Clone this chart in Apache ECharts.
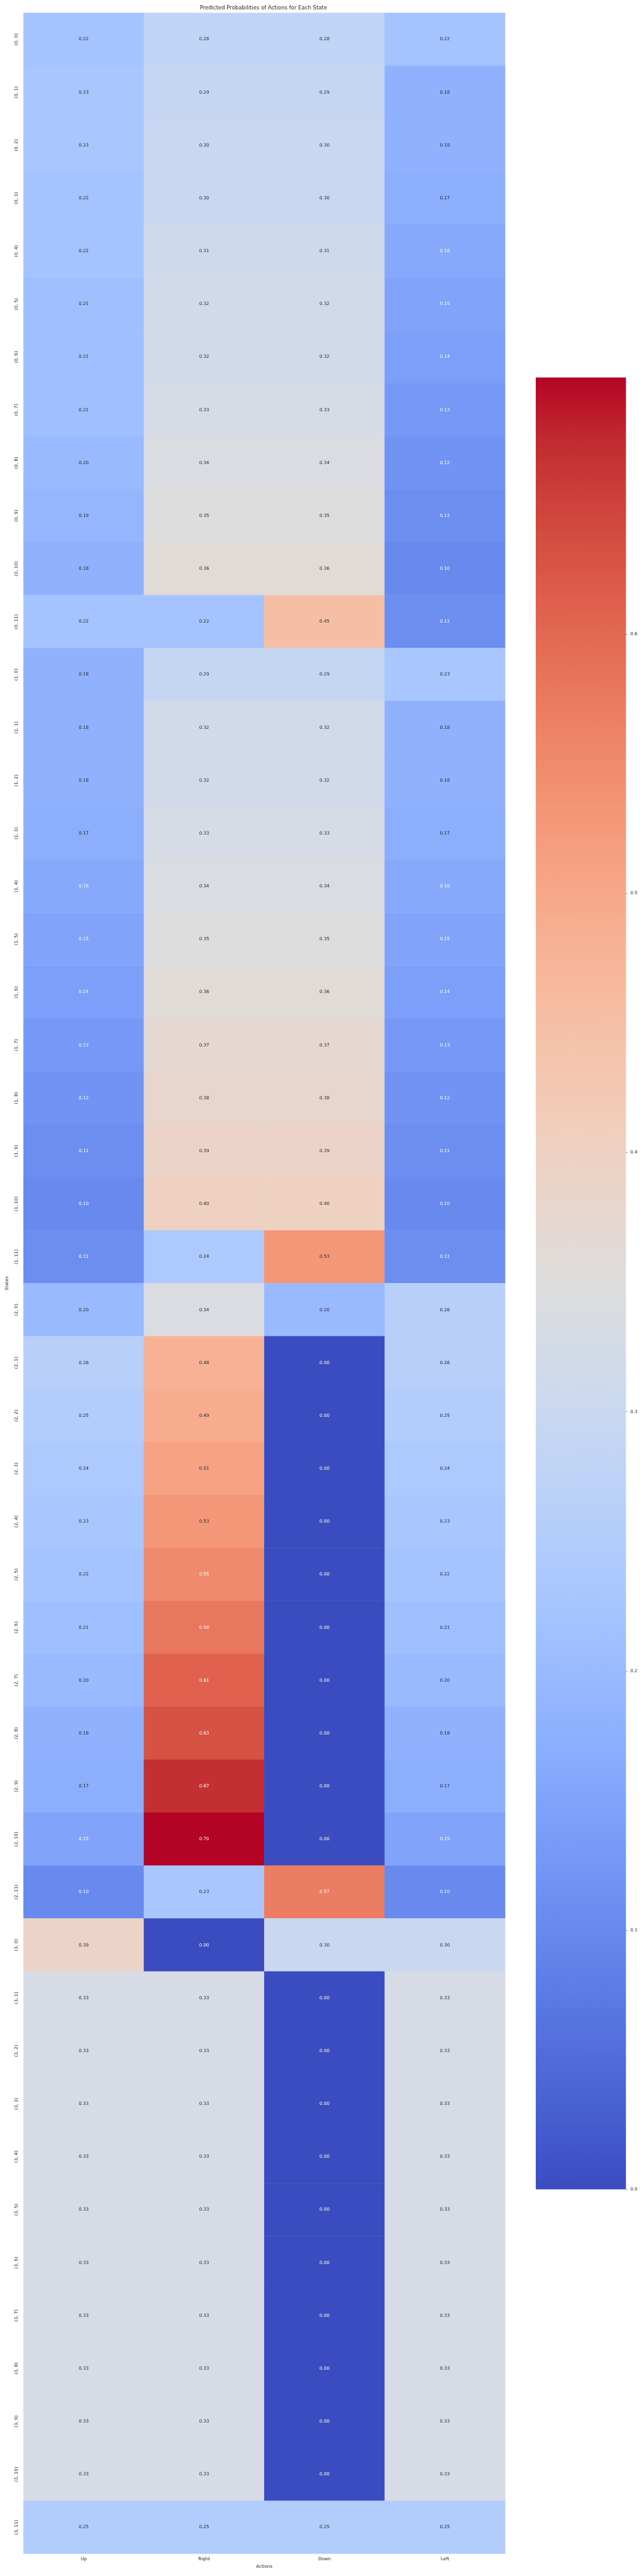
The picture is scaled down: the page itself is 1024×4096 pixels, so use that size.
<!DOCTYPE html>
<html><head><meta charset="utf-8">
<script src="https://cdn.jsdelivr.net/npm/echarts@6/dist/echarts.min.js"></script>
<style>html,body{margin:0;padding:0;background:#fff}#c{width:1024px;height:4096px}</style>
</head><body><div id="c"></div>
<script>
const actions = ['Up', 'Right', 'Down', 'Left'];
const states = [
  '(0, 0)','(0, 1)','(0, 2)','(0, 3)','(0, 4)','(0, 5)','(0, 6)','(0, 7)','(0, 8)','(0, 9)','(0, 10)','(0, 11)',
  '(1, 0)','(1, 1)','(1, 2)','(1, 3)','(1, 4)','(1, 5)','(1, 6)','(1, 7)','(1, 8)','(1, 9)','(1, 10)','(1, 11)',
  '(2, 0)','(2, 1)','(2, 2)','(2, 3)','(2, 4)','(2, 5)','(2, 6)','(2, 7)','(2, 8)','(2, 9)','(2, 10)','(2, 11)',
  '(3, 0)','(3, 1)','(3, 2)','(3, 3)','(3, 4)','(3, 5)','(3, 6)','(3, 7)','(3, 8)','(3, 9)','(3, 10)','(3, 11)'
];
const upVals = [
  0.22,0.23,0.23,0.22,0.22,0.21,0.21,0.21,0.20,0.19,0.18,0.22,
  0.18,0.18,0.18,0.17,0.16,0.15,0.14,0.13,0.12,0.11,0.10,0.11,
  0.20,0.26,0.25,0.24,0.23,0.22,0.21,0.20,0.18,0.17,0.15,0.10,
  0.39,0.33,0.33,0.33,0.33,0.33,0.33,0.33,0.33,0.33,0.33,0.25
];
const rightVals = [
  0.28,0.29,0.30,0.30,0.31,0.32,0.32,0.33,0.34,0.35,0.36,0.22,
  0.29,0.32,0.32,0.33,0.34,0.35,0.36,0.37,0.38,0.39,0.40,0.24,
  0.34,0.48,0.49,0.51,0.53,0.55,0.58,0.61,0.63,0.67,0.699,0.23,
  0.00,0.33,0.33,0.33,0.33,0.33,0.33,0.33,0.33,0.33,0.33,0.25
];
const downVals = [
  0.28,0.29,0.30,0.30,0.31,0.32,0.32,0.33,0.34,0.35,0.36,0.45,
  0.29,0.32,0.32,0.33,0.34,0.35,0.36,0.37,0.38,0.39,0.40,0.53,
  0.20,0.00,0.00,0.00,0.00,0.00,0.00,0.00,0.00,0.00,0.00,0.57,
  0.30,0.00,0.00,0.00,0.00,0.00,0.00,0.00,0.00,0.00,0.00,0.25
];
const leftVals = [
  0.22,0.18,0.18,0.17,0.16,0.15,0.14,0.13,0.12,0.11,0.10,0.11,
  0.23,0.18,0.18,0.17,0.16,0.15,0.14,0.13,0.12,0.11,0.10,0.11,
  0.26,0.26,0.25,0.24,0.23,0.22,0.21,0.20,0.18,0.17,0.15,0.10,
  0.30,0.33,0.33,0.33,0.33,0.33,0.33,0.33,0.33,0.33,0.33,0.25
];
const colorbarTicks = [0.0, 0.1, 0.2, 0.3, 0.4, 0.5, 0.6];

// coolwarm colormap samples (evenly spaced, 0..1)
const coolwarm = [
  [59,76,192],[68,90,204],[77,104,215],[87,117,225],[98,130,234],[108,142,241],[119,154,247],[130,165,251],
  [141,176,254],[152,185,255],[163,194,255],[174,201,253],[184,208,249],[194,213,244],[204,217,238],[213,219,230],
  [221,221,221],[229,216,209],[236,211,197],[241,204,185],[245,196,173],[247,187,160],[247,177,148],[247,166,135],
  [244,154,123],[241,141,111],[236,127,99],[229,112,88],[222,96,77],[213,80,66],[203,62,56],[192,40,47],[180,4,38]
];
const toHex = c => '#' + c.map(v => Math.round(v).toString(16).padStart(2, '0')).join('');
const cwHex = coolwarm.map(toHex);

const series4 = [upVals, rightVals, downVals, leftVals];
const allVals = series4.flat();
const vmin = 0;
const vmax = Math.max(...allVals);

function cmap(v) {
  let t = (v - vmin) / (vmax - vmin);
  t = Math.max(0, Math.min(1, t)) * (coolwarm.length - 1);
  const i = Math.min(Math.floor(t), coolwarm.length - 2);
  const f = t - i;
  return coolwarm[i].map((a, k) => a + (coolwarm[i + 1][k] - a) * f);
}
function luminance(rgb) {
  const l = rgb.map(c => { c = c / 255; return c <= 0.03928 ? c / 12.92 : Math.pow((c + 0.055) / 1.055, 2.4); });
  return 0.2126 * l[0] + 0.7152 * l[1] + 0.0722 * l[2];
}

const S = 1024 / 1440;
const FONT = 'DejaVu Sans';
const TXT = '#262626';

const heatData = [];
series4.forEach((arr, xi) => {
  arr.forEach((v, yi) => {
    heatData.push({
      value: [xi, yi, v],
      label: { color: luminance(cmap(v)) > 0.408 ? TXT : '#ffffff' }
    });
  });
});

const gridL = 48.7 * S, gridT = 28.9 * S, gridW = (1129.5 - 48.7) * S, gridH = (5710.2 - 28.9) * S;
const cbL = 1198 * S, cbT = 844 * S, cbW = 201.6 * S, cbH = (4895.5 - 844) * S;

const chart = echarts.init(document.getElementById('c'), null, { renderer: 'canvas' });
chart.setOption({
  animation: false,
  backgroundColor: '#ffffff',
  textStyle: { fontFamily: FONT },
  title: {
    text: 'Predicted Probabilities of Actions for Each State',
    left: gridL + gridW / 2, top: 18.6 * S,
    textAlign: 'center', textVerticalAlign: 'middle', padding: 0,
    textStyle: { fontFamily: FONT, fontSize: 12 * S, fontWeight: 'normal', color: TXT }
  },
  grid: [
    { left: gridL, top: gridT, width: gridW, height: gridH, containLabel: false },
    { left: cbL, top: cbT, width: cbW, height: cbH, containLabel: false }
  ],
  xAxis: [
    {
      type: 'category', gridIndex: 0, data: actions, position: 'bottom',
      axisLine: { show: false }, axisTick: { show: false }, splitLine: { show: false },
      axisLabel: { fontFamily: FONT, fontSize: 10 * S, color: TXT, margin: 5.5 },
      name: 'Actions', nameLocation: 'middle', nameGap: 17,
      nameTextStyle: { fontFamily: FONT, fontSize: 10 * S, color: TXT }
    },
    {
      type: 'category', gridIndex: 1, data: ['cb'], show: false
    }
  ],
  yAxis: [
    {
      type: 'category', gridIndex: 0, data: states, inverse: true,
      axisLine: { show: false }, axisTick: { show: false }, splitLine: { show: false },
      axisLabel: { fontFamily: FONT, fontSize: 10 * S, color: TXT, rotate: 90, margin: 7.5 },
      name: 'States', nameLocation: 'middle', nameGap: 18,
      nameTextStyle: { fontFamily: FONT, fontSize: 10 * S, color: TXT }
    },
    {
      type: 'value', gridIndex: 1, min: vmin, max: vmax, position: 'right',
      axisLine: { show: false }, splitLine: { show: false },
      axisTick: { show: true, length: 3.5 * S, customValues: colorbarTicks, lineStyle: { color: TXT, width: 0.8 * S } },
      axisLabel: { fontFamily: FONT, fontSize: 10 * S, color: TXT, margin: 7, customValues: colorbarTicks,
        formatter: v => v.toFixed(1) }
    }
  ],
  visualMap: {
    show: false, type: 'continuous', min: vmin, max: vmax, dimension: 2, seriesIndex: 0,
    inRange: { color: cwHex }
  },
  series: [
    {
      type: 'heatmap', xAxisIndex: 0, yAxisIndex: 0, data: heatData,
      label: { show: true, fontFamily: FONT, fontSize: 10 * S, formatter: p => p.value[2].toFixed(2) },
      itemStyle: { borderWidth: 0 },
      emphasis: { disabled: true }
    },
    {
      type: 'bar', xAxisIndex: 1, yAxisIndex: 1, data: [vmax], barWidth: '100%', silent: true,
      itemStyle: {
        color: {
          type: 'linear', x: 0, y: 1, x2: 0, y2: 0,
          colorStops: cwHex.map((c, i) => ({ offset: i / (cwHex.length - 1), color: c }))
        }
      }
    }
  ]
});
</script>
</body></html>
